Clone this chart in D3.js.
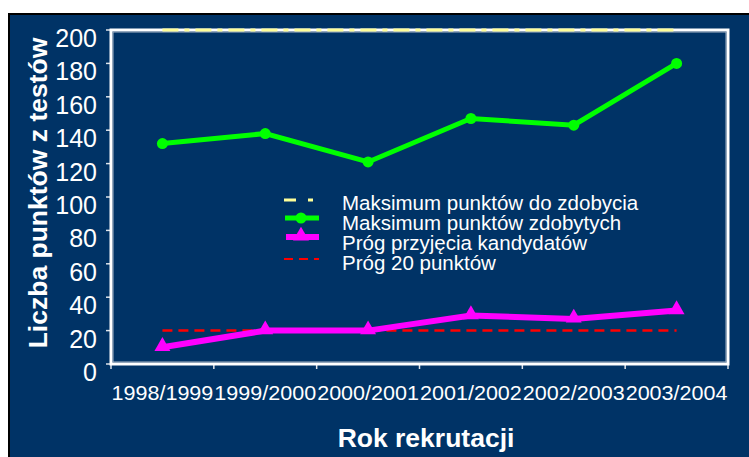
<!DOCTYPE html>
<html>
<head>
<meta charset="utf-8">
<script src="https://cdn.jsdelivr.net/npm/d3@7"></script>
<style>
  body { margin: 0; background: #fff; }
  svg { display: block; font-family: Arial, "Liberation Sans", sans-serif; }
</style>
</head>
<body>
<svg width="749" height="457"></svg>
<script>
// data
var years = ["1998/1999", "1999/2000", "2000/2001", "2001/2002", "2002/2003", "2003/2004"];
var maxPossible = [200, 200, 200, 200, 200, 200];
var maxScored = [132, 138, 121, 147, 143, 180];
var threshold = [10, 20, 20, 29, 27, 32];
var threshold20 = [20, 20, 20, 20, 20, 20];
var yTicks = [0, 20, 40, 60, 80, 100, 120, 140, 160, 180, 200];
var legendNames = ["Maksimum punktów do zdobycia", "Maksimum punktów zdobytych", "Próg przyjęcia kandydatów", "Próg 20 punktów"];

var svg = d3.select("svg"),
	width = +svg.attr("width"),
	height = +svg.attr("height");

var bg = "#003366";

// slide background with black edge top/left
svg.append("rect")
	.attr("x", 8).attr("y", 13)
	.attr("width", width - 8).attr("height", height - 13)
	.attr("fill", bg);
svg.append("path")
	.attr("d", "M9," + height + "V14H" + width)
	.attr("fill", "none")
	.attr("stroke", "#000")
	.attr("stroke-width", 2);

var plot = { left: 111, top: 30, right: 728, bottom: 364 };

var x = d3.scaleBand()
	.domain(years)
	.range([plot.left, plot.right]);

var y = d3.scaleLinear()
	.domain([0, 200])
	.range([plot.bottom, plot.top]);

var cx = (d, i) => x(years[i]) + x.bandwidth() / 2;

// x axis ticks (band edges)
var xEdges = years.map((d) => x(d)).concat([plot.right]);
svg.append("g").selectAll("line")
	.data(xEdges)
	.enter().append("line")
	.attr("x1", (d) => d).attr("x2", (d) => d)
	.attr("y1", plot.bottom).attr("y2", plot.bottom + 5)
	.attr("stroke", "#dde3ea").attr("stroke-width", 1.5);

// y axis ticks
svg.append("g").selectAll("line")
	.data(yTicks)
	.enter().append("line")
	.attr("x1", plot.left - 5).attr("x2", plot.left)
	.attr("y1", (d) => y(d)).attr("y2", (d) => y(d))
	.attr("stroke", "#dde3ea").attr("stroke-width", 1.5);

// y labels
svg.append("g").selectAll("text")
	.data(yTicks)
	.enter().append("text")
	.attr("x", 97)
	.attr("y", (d) => y(d) + 17)
	.attr("text-anchor", "end")
	.attr("fill", "#fff")
	.attr("font-size", 25)
	.text((d) => d);

// x labels
svg.append("g").selectAll("text")
	.data(years)
	.enter().append("text")
	.attr("x", (d) => x(d) + x.bandwidth() / 2)
	.attr("y", 400)
	.attr("text-anchor", "middle")
	.attr("fill", "#fff")
	.attr("font-size", 21)
	.attr("textLength", x.bandwidth() - 1)
	.attr("lengthAdjust", "spacingAndGlyphs")
	.text((d) => d);

// axis titles
svg.append("text")
	.attr("transform", "translate(47,193) rotate(-90)")
	.attr("text-anchor", "middle")
	.attr("fill", "#fff")
	.attr("font-size", 26.5)
	.attr("font-weight", "bold")
	.text("Liczba punktów z testów");

svg.append("text")
	.attr("x", 426).attr("y", 447)
	.attr("text-anchor", "middle")
	.attr("fill", "#fff")
	.attr("font-size", 26.5)
	.attr("font-weight", "bold")
	.text("Rok rekrutacji");

var line = d3.line()
	.x(cx)
	.y((d) => y(d));

// plot frame
svg.append("rect")
	.attr("x", plot.left).attr("y", plot.top)
	.attr("width", plot.right - plot.left).attr("height", plot.bottom - plot.top)
	.attr("fill", "none")
	.attr("stroke", "#fff")
	.attr("stroke-width", 3);
svg.append("rect")
	.attr("x", plot.left + 2).attr("y", plot.top + 2)
	.attr("width", plot.right - plot.left - 4).attr("height", plot.bottom - plot.top - 4)
	.attr("fill", "none")
	.attr("stroke", "#a9b8c8")
	.attr("stroke-width", 1);

// series
svg.append("path")
	.datum(maxPossible)
	.attr("d", line)
	.attr("fill", "none")
	.attr("stroke", "#ffff99")
	.attr("stroke-width", 3)
	.attr("stroke-dasharray", "16,6,5,6");

svg.append("path")
	.datum(threshold20)
	.attr("d", line)
	.attr("fill", "none")
	.attr("stroke", "#ff0000")
	.attr("stroke-width", 2.5)
	.attr("stroke-dasharray", "10,6");

svg.append("path")
	.datum(maxScored)
	.attr("d", line)
	.attr("fill", "none")
	.attr("stroke", "#00ff00")
	.attr("stroke-width", 5);
svg.append("g").selectAll("circle")
	.data(maxScored)
	.enter().append("circle")
	.attr("cx", cx)
	.attr("cy", (d) => y(d))
	.attr("r", 5.5)
	.attr("fill", "#00ff00");

svg.append("path")
	.datum(threshold)
	.attr("d", line)
	.attr("fill", "none")
	.attr("stroke", "#ff00ff")
	.attr("stroke-width", 6);
var tri = d3.symbol().type(d3.symbolTriangle).size(110);
svg.append("g").selectAll("path")
	.data(threshold)
	.enter().append("path")
	.attr("d", tri)
	.attr("transform", (d, i) => "translate(" + cx(d, i) + "," + (y(d) - 1) + ")")
	.attr("fill", "#ff00ff");

// legend
var legend = svg.append("g");
var rowY = (i) => 203 + i * 20;
legend.selectAll("text")
	.data(legendNames)
	.enter().append("text")
	.attr("x", 342)
	.attr("y", (d, i) => rowY(i) + 7)
	.attr("fill", "#fff")
	.attr("font-size", 20.5)
	.text((d) => d);

legend.append("line")
	.attr("x1", 284).attr("x2", 314).attr("y1", rowY(0) - 3).attr("y2", rowY(0) - 3)
	.attr("stroke", "#ffff99").attr("stroke-width", 3)
	.attr("stroke-dasharray", "12,12,5,20");
legend.append("line")
	.attr("x1", 285).attr("x2", 319).attr("y1", rowY(1) - 5).attr("y2", rowY(1) - 5)
	.attr("stroke", "#00ff00").attr("stroke-width", 5);
legend.append("circle")
	.attr("cx", 301).attr("cy", rowY(1) - 5).attr("r", 5.5)
	.attr("fill", "#00ff00");
legend.append("line")
	.attr("x1", 286).attr("x2", 319).attr("y1", rowY(2) - 6).attr("y2", rowY(2) - 6)
	.attr("stroke", "#ff00ff").attr("stroke-width", 6);
legend.append("path")
	.attr("d", tri)
	.attr("transform", "translate(301," + (rowY(2) - 7) + ")")
	.attr("fill", "#ff00ff");
legend.append("line")
	.attr("x1", 284).attr("x2", 319).attr("y1", rowY(3) - 4).attr("y2", rowY(3) - 4)
	.attr("stroke", "#ff0000").attr("stroke-width", 2)
	.attr("stroke-dasharray", "9,6");
</script>
</body>
</html>
